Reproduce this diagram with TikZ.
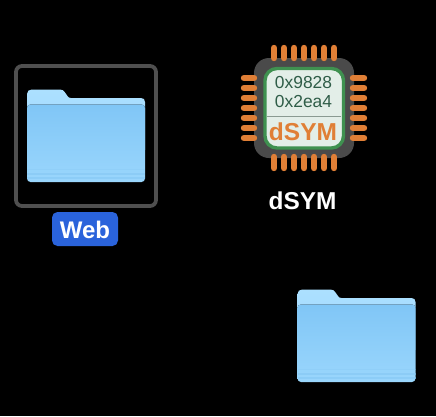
\documentclass[tikz,border=0pt]{standalone}
\usepackage{fontspec}
\setmainfont{Liberation Sans}
\definecolor{frameC}{HTML}{4F4F4F}
\definecolor{badge}{HTML}{2A63DB}
\definecolor{chipbody}{HTML}{4A4A4A}
\definecolor{pin}{HTML}{E07F36}
\definecolor{chipgreen}{HTML}{3F9150}
\definecolor{chipface}{HTML}{E3EEE8}
\definecolor{hexC}{HTML}{2F5D48}
\definecolor{divC}{HTML}{8A9A92}
\definecolor{tabtop}{HTML}{ACE0FF}
\definecolor{tabbot}{HTML}{9DD8FE}
\definecolor{fronttop}{HTML}{80C6F6}
\definecolor{frontbot}{HTML}{9AD6FC}
\definecolor{stripe}{HTML}{85C8F4}
\tikzset{
  x=1pt,y=-1pt,
  label text/.style={inner sep=0pt,anchor=base,text=white,font=\bfseries\fontsize{24.4}{25}\selectfont},
  hex text/.style={inner sep=0pt,anchor=base,text=hexC,font=\fontsize{17.4}{18}\selectfont},
  pin line/.style={draw=pin,line width=6.4pt,line cap=round},
  folder/.pic={
    \fill[top color=tabtop,bottom color=tabbot]
      (27,150) -- (27,94) .. controls (27,91) and (29,89.5) .. (32,89.5) -- (60,89.5)
      .. controls (62.5,89.5) and (63.5,90.5) .. (65,92.5) -- (67.5,96)
      .. controls (68.5,97.5) and (69.5,98) .. (71,98) -- (141,98)
      .. controls (143.5,98) and (145,99.5) .. (145,102) -- (145,150) -- cycle;
    \fill[top color=fronttop,bottom color=frontbot,rounded corners=3.5pt]
      (27,104.5) -- (145,104.5) -- (145,182) -- (27,182) -- cycle;
    \fill[stripe,opacity=.6] (27,172.5) rectangle (145,175);
    \fill[stripe,opacity=.6] (27,177) rectangle (145,178.5);
    \fill[stripe,opacity=.3] (27,168.5) rectangle (145,170);
  }
}
\begin{document}
\begin{tikzpicture}
\useasboundingbox (0,0) rectangle (436,416);
\fill[black] (0,0) rectangle (436,416);
% selected folder
\draw[frameC,line width=3.8pt,rounded corners=6pt] (16,66) rectangle (156,206);
\pic at (0,0) {folder};
\fill[badge,rounded corners=5.5pt] (52,212) rectangle (118,246);
\node[label text,font=\bfseries\fontsize{24}{25}\selectfont] (web) at (85,238) {Web};
% chip
\fill[chipbody,rounded corners=15pt] (254,58) rectangle (354,158);
\foreach \i in {274,284,294,304,314,324,334}{
  \draw[pin line] (\i,48) -- (\i,58);
  \draw[pin line] (\i,157) -- (\i,168);
}
\foreach \j in {78,88,98,108,118,128,138}{
  \draw[pin line] (244,\j) -- (254,\j);
  \draw[pin line] (353,\j) -- (364,\j);
}
\draw[chipgreen,fill=chipface,line width=3.4pt,rounded corners=12pt] (265,68.5) rectangle (343.5,148);
\draw[divC,line width=.8pt] (267,116) -- (341,116);
\node[hex text] (hexa) at (303.5,88.5) {0x9828};
\node[hex text] (hexb) at (303.5,107.5) {0x2ea4};
\node[inner sep=0pt,anchor=base,text=pin,font=\bfseries\fontsize{24.5}{25}\selectfont] (chipname) at (303,140) {dSYM};
\node[label text] (dsym) at (302.5,209) {dSYM};
% lower folder
\pic at (270.5,200) {folder};
\end{tikzpicture}
\end{document}
